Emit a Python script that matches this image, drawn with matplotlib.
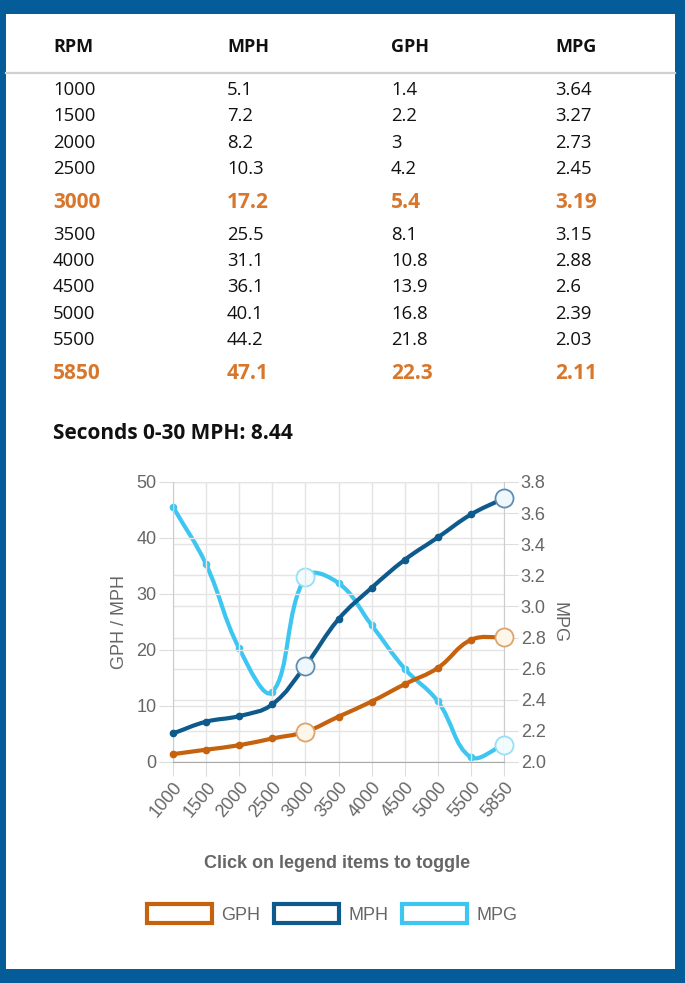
import numpy as np
import matplotlib.pyplot as plt
from matplotlib.path import Path
from matplotlib.patches import PathPatch, Rectangle, Patch

# table / chart data
rpm = [1000, 1500, 2000, 2500, 3000, 3500, 4000, 4500, 5000, 5500, 5850]
mph = [5.1, 7.2, 8.2, 10.3, 17.2, 25.5, 31.1, 36.1, 40.1, 44.2, 47.1]
gph = [1.4, 2.2, 3, 4.2, 5.4, 8.1, 10.8, 13.9, 16.8, 21.8, 22.3]
mpg = [3.64, 3.27, 2.73, 2.45, 3.19, 3.15, 2.88, 2.6, 2.39, 2.03, 2.11]
highlight_rpm = [3000, 5850]
headers = ["RPM", "MPH", "GPH", "MPG"]
seconds_0_30 = "8.44"

BORDER = "#045c99"
ORANGE_TXT = "#d8762b"
C_GPH, C_MPH, C_MPG = "#c6620e", "#0e5a8c", "#3ec6f2"
PALE = {C_GPH: ("#fff6ea", "#dca46e"), C_MPH: ("#eef8fc", "#5f8db0"),
        C_MPG: ("#f2fcff", "#97dff5")}
W, H = 685, 983
fx = lambda px: px / W
fy = lambda py: 1 - py / H

fig = plt.figure(figsize=(W / 100, H / 100), dpi=100, facecolor=BORDER)
fig.patches.append(Rectangle((fx(5.5), fy(969)), fx(675) - fx(5.5), fy(14) - fy(969),
                             transform=fig.transFigure, facecolor="white",
                             edgecolor="none", zorder=0))
fig.lines.append(plt.Line2D([fx(5.5), fx(675)], [fy(73), fy(73)], transform=fig.transFigure,
                            color="#d0d0d0", lw=1.6))

# ---- table ----
col_x = [53, 227, 391, 555]
for cx, h in zip(col_x, headers):
    fig.text(fx(cx), fy(45), h, family="Open Sans", weight="bold", fontsize=13,
             va="center_baseline", color="#111111")

y = 88
for i, r in enumerate(rpm):
    hi = r in highlight_rpm
    if i > 0:
        y += 33 if (hi or rpm[i - 1] in highlight_rpm) else 26.3
    vals = [r, mph[i], gph[i], mpg[i]]
    for cx, v in zip(col_x, vals):
        fig.text(fx(cx), fy(y), f"{v:g}", family="Open Sans",
                 weight="bold" if hi else "normal", fontsize=15 if hi else 13.3,
                 color=ORANGE_TXT if hi else "#111111", va="center_baseline")

fig.text(fx(53), fy(431), f"Seconds 0-30 MPH: {seconds_0_30}", family="Open Sans",
         weight="bold", fontsize=15, va="center_baseline", color="#111111")

# ---- chart ----
plt.rcParams["font.family"] = "Liberation Sans"
ax = fig.add_axes([fx(173), fy(762), fx(504) - fx(173), fy(482) - fy(762)])
ax2 = ax.twinx()
ax2.set_zorder(1); ax.set_zorder(2); ax.patch.set_visible(False)

x = np.arange(len(rpm))
ax.set_xlim(0, len(rpm) - 1)
ax.set_ylim(0, 50)
ax2.set_ylim(2.0, 3.8)
ax.set_yticks(np.arange(0, 51, 10))
ax2.set_yticks(np.round(np.arange(2.0, 3.81, 0.2), 1))
ax2.set_yticklabels([f"{t:.1f}" for t in np.arange(2.0, 3.81, 0.2)])
ax.set_xticks(x)
ax.set_xticklabels([str(r) for r in rpm], rotation=50, ha="right", va="top",
                   rotation_mode="anchor")

for a in (ax, ax2):
    a.tick_params(length=10, color="#dddddd", labelcolor="#666666", labelsize=13, pad=2)
    for s in a.spines.values():
        s.set_visible(False)
ax.spines["left"].set_visible(True); ax.spines["left"].set_color("#cccccc")
ax.spines["bottom"].set_visible(True); ax.spines["bottom"].set_color("#aaaaaa")
ax2.spines["right"].set_visible(True); ax2.spines["right"].set_color("#cccccc")
ax.grid(True, color="#e4e4e4", lw=1)
ax2.grid(True, axis="y", color="#e4e4e4", lw=1)
ax.set_axisbelow(True); ax2.set_axisbelow(True)

ax.set_ylabel("GPH / MPH", color="#666666", fontsize=13, labelpad=6)
ax2.set_ylabel("MPG", color="#666666", fontsize=13, rotation=-90, labelpad=16)


def spline(a, xs, ys, tension=0.4):
    """Chart.js-style bezier through the points, built in display space."""
    fig.canvas.draw_idle()
    P = a.transData.transform(np.column_stack([xs, ys]))
    n = len(P)
    inner, outer = P.copy(), P.copy()
    for i in range(n):
        p0 = P[max(i - 1, 0)]; p1 = P[i]; p2 = P[min(i + 1, n - 1)]
        d01 = np.hypot(*(p1 - p0)); d12 = np.hypot(*(p2 - p1))
        tot = d01 + d12
        fa, fb = tension * d01 / tot, tension * d12 / tot
        inner[i] = p1 - fa * (p2 - p0)
        outer[i] = p1 + fb * (p2 - p0)
    bb = a.get_window_extent()
    for c in (inner, outer):
        c[:, 1] = np.clip(c[:, 1], bb.y0, bb.y1)
    verts = [P[0]]
    codes = [Path.MOVETO]
    for i in range(1, n):
        verts += [outer[i - 1], inner[i], P[i]]
        codes += [Path.CURVE4] * 3
    inv = a.transData.inverted()
    return Path(inv.transform(np.array(verts)), codes)


hi_idx = [rpm.index(r) for r in highlight_rpm]
for a, vals, col, lab in [(ax, gph, C_GPH, "GPH"), (ax, mph, C_MPH, "MPH"),
                          (ax2, mpg, C_MPG, "MPG")]:
    a.add_patch(PathPatch(spline(a, x, vals), fill=False, edgecolor=col, lw=3,
                          capstyle="round", joinstyle="round", zorder=3))
    a.plot(x, vals, "o", ms=4.5, color=col, zorder=4, clip_on=False)
    fc, ec = PALE[col]
    a.plot([x[i] for i in hi_idx], [vals[i] for i in hi_idx], "o", ms=13, mfc=fc,
           mec=ec, mew=1.3, zorder=5, clip_on=False)

fig.text(fx(337), fy(862), "Click on legend items to toggle", ha="center",
         va="center_baseline", fontsize=13, weight="bold", color="#666666")

handles = [Patch(facecolor="white", edgecolor=c, linewidth=3, label=l)
           for c, l in [(C_GPH, "GPH"), (C_MPH, "MPH"), (C_MPG, "MPG")]]
fig.legend(handles=handles, loc="center", bbox_to_anchor=(fx(332), fy(914)), ncol=3,
           frameon=False, handlelength=3.6, handleheight=1.2, handletextpad=0.5,
           columnspacing=0.78, fontsize=13, labelcolor="#666666")

fig.savefig("out.png", dpi=100, facecolor=BORDER)
